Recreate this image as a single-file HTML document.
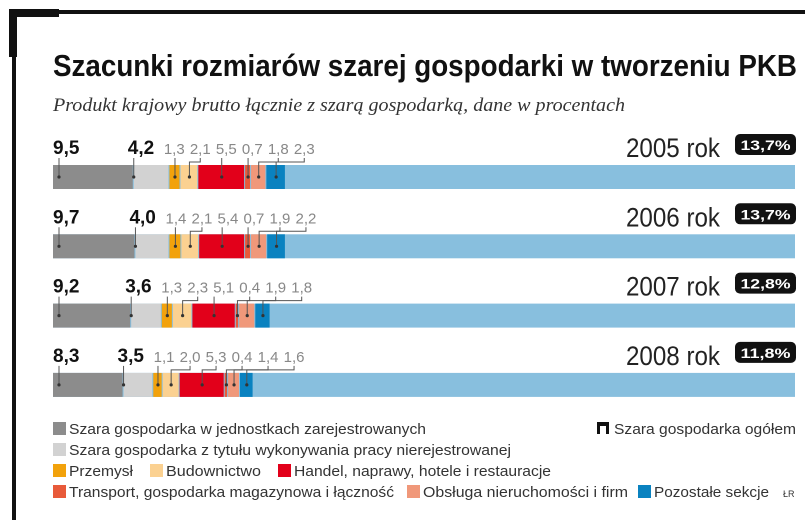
<!DOCTYPE html>
<html><head><meta charset="utf-8">
<style>
body{margin:0;background:#fff;}
#wrap{position:relative;width:805px;height:520px;overflow:hidden;font-family:"Liberation Sans",sans-serif;}
</style></head>
<body>
<div id="wrap">
<svg id="chart" width="805" height="520" viewBox="0 0 805 520">
  <rect x="12" y="10" width="793" height="4" fill="#111"/>
  <rect x="12" y="10" width="4" height="510" fill="#111"/>
  <rect x="9" y="9" width="50" height="8" fill="#111"/>
  <rect x="9" y="9" width="8" height="48" fill="#111"/>
  <text x="53" y="76" font-size="31" font-weight="bold" fill="#111" textLength="744" lengthAdjust="spacingAndGlyphs">Szacunki rozmiarów szarej gospodarki w tworzeniu PKB</text>
  <text x="53" y="111" font-size="19" font-style="italic" fill="#333" font-family="Liberation Serif, serif" textLength="572" lengthAdjust="spacingAndGlyphs">Produkt krajowy brutto łącznie z szarą gospodarką, dane w procentach</text>
  <g id="bars"></g>
  <g id="legend"></g>
</svg>
</div>
<script>
const years = ["2005 rok","2006 rok","2007 rok","2008 rok"];
const totals = ["13,7%","13,7%","12,8%","11,8%"];
const registered = [9.5, 9.7, 9.2, 8.3];
const unregistered = [4.2, 4.0, 3.6, 3.5];
const industry = [1.3, 1.4, 1.3, 1.1];
const construction = [2.1, 2.1, 2.3, 2.0];
const trade = [5.5, 5.4, 5.1, 5.3];
const transport = [0.7, 0.7, 0.4, 0.4];
const realEstate = [1.8, 1.9, 1.9, 1.4];
const other = [2.3, 2.2, 1.8, 1.6];
const seriesNames = ["Szara gospodarka w jednostkach zarejestrowanych","Szara gospodarka z tytułu wykonywania pracy nierejestrowanej","Przemysł","Budownictwo","Handel, naprawy, hotele i restauracje","Transport, gospodarka magazynowa i łączność","Obsługa nieruchomości i firm","Pozostałe sekcje"];

const colors = ["#8c8c8c","#d2d2d2","#f2a20c","#fbd191","#e2001a","#e85a3a","#f0987a","#0a82c0"];
const restColor = "#88bfde";
const NS = "http://www.w3.org/2000/svg";
const X0 = 53, X1 = 795;
const PX_PER_PCT = 8.5;
const x = v => X0 + v * PX_PER_PCT;
const rowY = i => 165 + i * 69.3;
const BH = 24;
const series = [registered, unregistered, industry, construction, trade, transport, realEstate, other];
const fmt = v => v.toFixed(1).replace(".", ",");
function mk(tag, attrs, parent){const e=document.createElementNS(NS,tag);for(const k in attrs)e.setAttribute(k,attrs[k]);parent.appendChild(e);return e;}
const gb = document.getElementById("bars");
years.forEach((yr, i) => {
  const y = rowY(i);
  const row = mk("g", {}, gb);
  
  
  const bg = mk("rect", {x: X0, y: y, width: X1 - X0, height: BH, fill: restColor}, row);
  
  
  let cum = 0, prevRight = 0;
  series.forEach((s, k) => {
    const v = s[i];
    const xs = x(cum), xe = x(cum + v);
    const r = mk("rect", {x: xs, y: y, width: Math.max(xe - xs - 1, 0.5), height: BH, fill: colors[k]}, row);
    
    
    const cx = (xs + xe) / 2;
    let lx, anchor = "middle", bold = k < 2, w;
    const label = mk("text", {}, row);
    label.textContent = fmt(v);
    
    
    let dotX;
    if (k === 0) { lx = xs; anchor = "start"; w = 30; prevRight = lx + w; dotX = xs + 6; }
    else if (k === 1) { lx = xs - 6; anchor = "start"; w = 30; prevRight = lx + w; dotX = lx + 6; }
    else { w = 19; const c = Math.max(cx - 2, prevRight + 7 + w / 2); lx = c; prevRight = c + w / 2; dotX = cx; }
    label.setAttribute("x", lx); label.setAttribute("y", y - 11);
    label.setAttribute("text-anchor", anchor);
    label.setAttribute("font-size", bold ? 19 : 15);
    label.setAttribute("font-weight", bold ? "bold" : "normal");
    label.setAttribute("fill", bold ? "#111" : "#888");
    const labX = k < 2 ? dotX : lx;
    let d;
    if (Math.abs(labX - dotX) > 10) d = `M${labX},${y-7} V${y-3} H${dotX} V${y+BH/2}`;
    else d = `M${dotX},${y-7} V${y+BH/2}`;
    const ln = mk("path", {d: d, stroke: "#555", "stroke-width": 1, fill: "none"}, row);
    
    
    const dot = mk("circle", {cx: dotX, cy: y + BH / 2, r: 1.6, fill: "#333"}, row);
    
    
    cum += v;
  });
  const yt = mk("text", {x: 720, y: y - 8, "text-anchor": "end", "font-size": 27, fill: "#222", textLength: 94, lengthAdjust: "spacingAndGlyphs"}, row);
  yt.textContent = yr;
  
  
  const badge = mk("rect", {x: 735, y: y - 31, width: 61, height: 21, rx: 5, fill: "#111"}, row);
  
  
  const bt = mk("text", {x: 765.5, y: y - 15, "text-anchor": "middle", "font-size": 14, "font-weight": "bold", fill: "#fff", textLength: 50, lengthAdjust: "spacingAndGlyphs"}, row);
  bt.textContent = totals[i];
  
  
});
const gl = document.getElementById("legend");
const legendItems = [
  [0, 53, 434, 357],[1, 53, 455, 442],[2, 53, 476, 64],[3, 150, 476, 95],[4, 278, 476, 257],
  [5, 53, 497, 325],[6, 407, 497, 205],[7, 638, 497, 115]
];
legendItems.forEach(([k, lx, ly, tw]) => {
  const g = mk("g", {}, gl);
  
  
  mk("rect", {x: lx, y: ly - 12, width: 13, height: 13, fill: colors[k]}, g);
  const t = mk("text", {x: lx + 16, y: ly, "font-size": 15, fill: "#333", textLength: tw, lengthAdjust: "spacingAndGlyphs"}, g);
  t.textContent = seriesNames[k];
});
const g2 = mk("g", {}, gl);


mk("rect", {x: 597, y: 422, width: 12, height: 12, fill: "#111"}, g2);
mk("rect", {x: 600, y: 426, width: 6, height: 8, fill: "#fff"}, g2);
const t2 = mk("text", {x: 614, y: 434, "font-size": 15, fill: "#333", textLength: 182, lengthAdjust: "spacingAndGlyphs"}, g2);
t2.textContent = "Szara gospodarka ogółem";
const cr = mk("text", {x: 783, y: 497, "font-size": 9, fill: "#333"}, gl);
cr.textContent = "ŁR";


</script>
</body></html>
